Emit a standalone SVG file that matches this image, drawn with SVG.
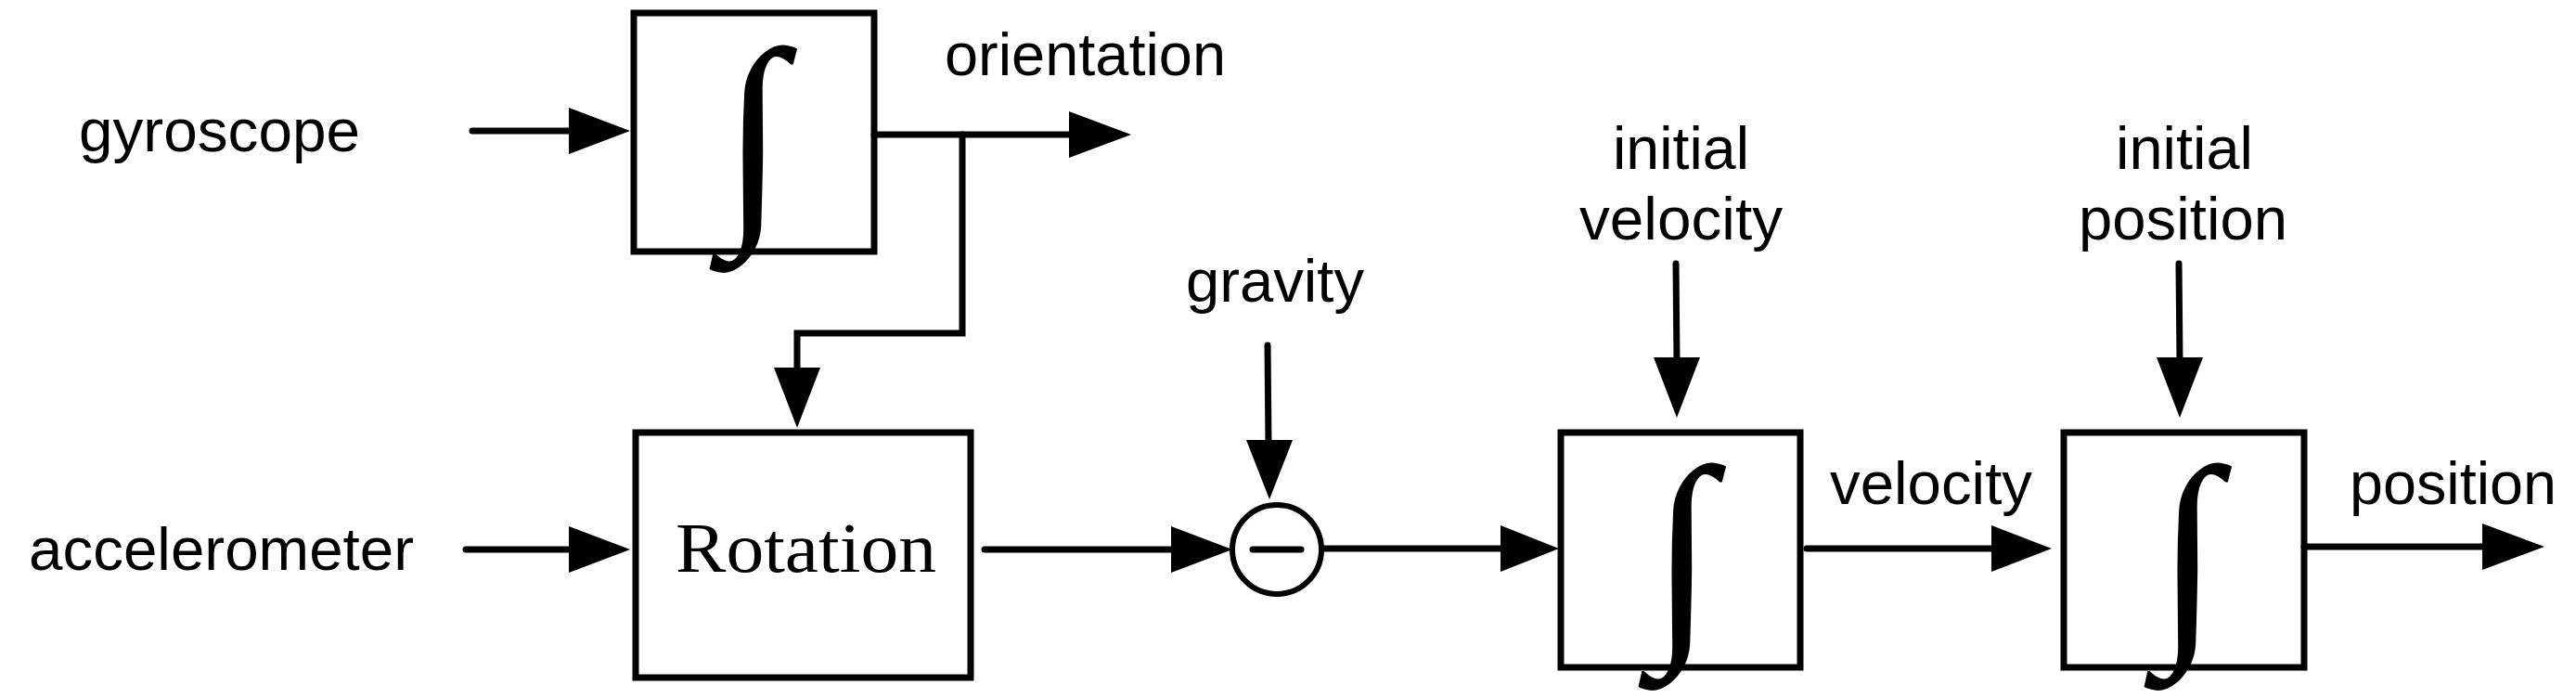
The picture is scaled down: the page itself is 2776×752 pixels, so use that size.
<svg xmlns="http://www.w3.org/2000/svg" width="2776" height="752" viewBox="0 0 2776 752">
<style>
.box{fill:none;stroke:#000;stroke-width:7}
.ln{fill:none;stroke:#000;stroke-width:7;stroke-linecap:round}
.lbl{font-family:"Liberation Sans",Arial,sans-serif;font-size:64px;fill:#000}
.int{font-family:"Liberation Serif","Times New Roman",serif;font-size:250px;fill:#000;text-anchor:middle;dominant-baseline:central}
.ah{fill:#000}
</style>
<rect width="2776" height="752" fill="#fff"/>
<g id="connectors">
<line class="ln" x1="509" y1="141" x2="620" y2="141"/><polygon class="ah" points="613,116 679,141 613,166"/>
<polyline class="ln" points="942,145 1160,145"/><polygon class="ah" points="1152,120 1219,145 1152,170"/>
<polyline class="ln" points="1037,145 1037,359 859,359 859,400"/><polygon class="ah" points="834,396 859,461 884,396"/>
<line class="ln" x1="502" y1="592" x2="620" y2="592"/><polygon class="ah" points="613,567 679,592 613,617"/>
<line class="ln" x1="1061" y1="592" x2="1265" y2="592"/><polygon class="ah" points="1262,567 1328,592 1262,617"/>
<line class="ln" x1="1366" y1="372" x2="1367" y2="480"/><polygon class="ah" points="1343,474 1368,538 1393,474"/>
<line class="ln" x1="1425" y1="591" x2="1620" y2="591"/><polygon class="ah" points="1617,566 1680,591 1617,616"/>
<line class="ln" x1="1806" y1="284" x2="1807" y2="390"/><polygon class="ah" points="1782,385 1807,450 1832,385"/>
<line class="ln" x1="1947" y1="591" x2="2150" y2="591"/><polygon class="ah" points="2146,566 2211,591 2146,616"/>
<line class="ln" x1="2348" y1="284" x2="2349" y2="390"/><polygon class="ah" points="2324,385 2349,450 2374,385"/>
<line class="ln" x1="2483" y1="589" x2="2680" y2="589"/><polygon class="ah" points="2675,564 2742,589 2675,614"/>
</g>
<g id="gyroscope"><text class="lbl" x="85" y="163" textLength="303" lengthAdjust="spacingAndGlyphs">gyroscope</text></g>
<g id="accelerometer"><text class="lbl" x="31" y="614" textLength="415" lengthAdjust="spacingAndGlyphs">accelerometer</text></g>
<g id="orientation"><text class="lbl" x="1018" y="81" textLength="303" lengthAdjust="spacingAndGlyphs">orientation</text></g>
<g id="gravity"><text class="lbl" x="1278" y="325" textLength="192" lengthAdjust="spacingAndGlyphs">gravity</text></g>
<g id="initial-velocity"><text class="lbl" x="1738" y="182" textLength="147" lengthAdjust="spacingAndGlyphs">initial</text><text class="lbl" x="1702" y="258" textLength="219" lengthAdjust="spacingAndGlyphs">velocity</text></g>
<g id="initial-position"><text class="lbl" x="2280" y="182" textLength="148" lengthAdjust="spacingAndGlyphs">initial</text><text class="lbl" x="2240" y="258" textLength="225" lengthAdjust="spacingAndGlyphs">position</text></g>
<g id="velocity"><text class="lbl" x="1972" y="543" textLength="218" lengthAdjust="spacingAndGlyphs">velocity</text></g>
<g id="position"><text class="lbl" x="2532" y="543" textLength="223" lengthAdjust="spacingAndGlyphs">position</text></g>
<g id="integrator-1"><rect class="box" x="683" y="14" width="259" height="257"/><text class="int" x="812" y="142">∫</text></g>
<g id="rotation"><rect class="box" x="685" y="466" width="361" height="264"/><text x="728" y="616" textLength="281" lengthAdjust="spacingAndGlyphs" style="font-family:'Liberation Serif','Times New Roman',serif;font-size:76px">Rotation</text></g>
<g id="subtract"><circle cx="1376" cy="592" r="48" fill="none" stroke="#000" stroke-width="6"/><line class="ln" x1="1350" y1="592" x2="1402" y2="592"/></g>
<g id="integrator-2"><rect class="box" x="1682" y="466" width="258" height="253"/><text class="int" x="1813" y="592">∫</text></g>
<g id="integrator-3"><rect class="box" x="2224" y="466" width="259" height="253"/><text class="int" x="2358" y="592">∫</text></g>
</svg>
